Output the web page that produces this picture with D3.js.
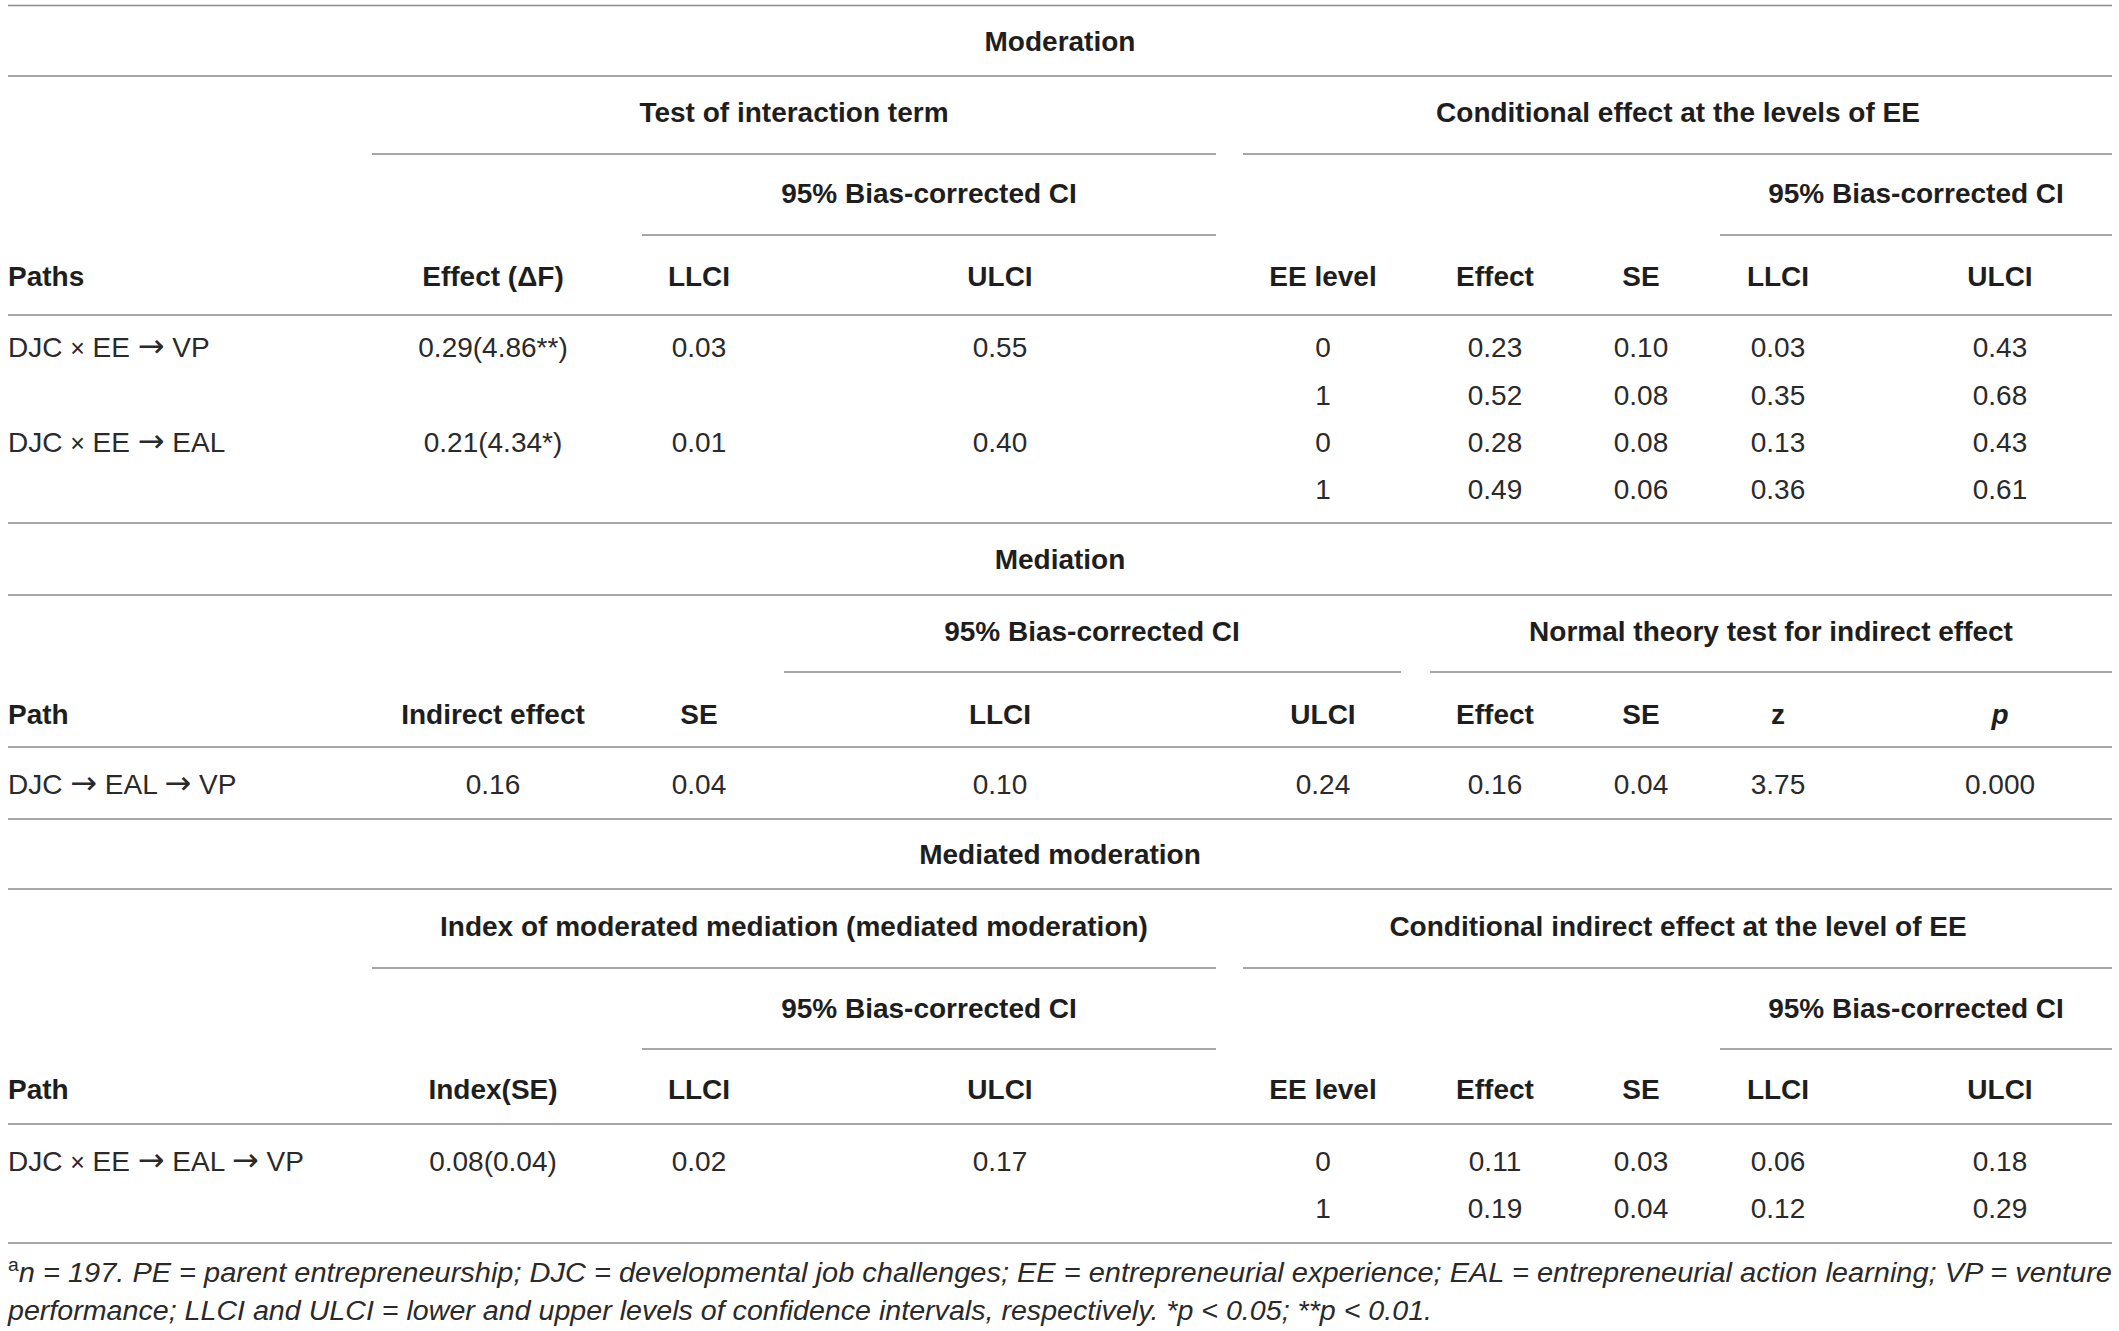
<!DOCTYPE html>
<html>
<head>
<meta charset="utf-8">
<script src="https://cdn.jsdelivr.net/npm/d3@7"></script>
<style>
  body { margin: 0; background: #fff; }
  svg { display: block; }
</style>
</head>
<body>
<div id="chart"></div>
<script>
// 表格資料
const modTitle = "Moderation"
const modSpan1 = ["Test of interaction term", "Conditional effect at the levels of EE"]
const modSpan2 = ["95% Bias-corrected CI", "95% Bias-corrected CI"]
const modHead = ["Paths", "Effect (ΔF)", "LLCI", "ULCI", "EE level", "Effect", "SE", "LLCI", "ULCI"]
const modRows = [
  ["DJC × EE → VP", "0.29(4.86**)", "0.03", "0.55", "0", "0.23", "0.10", "0.03", "0.43"],
  ["", "", "", "", "1", "0.52", "0.08", "0.35", "0.68"],
  ["DJC × EE → EAL", "0.21(4.34*)", "0.01", "0.40", "0", "0.28", "0.08", "0.13", "0.43"],
  ["", "", "", "", "1", "0.49", "0.06", "0.36", "0.61"]
]

const medTitle = "Mediation"
const medSpan = ["95% Bias-corrected CI", "Normal theory test for indirect effect"]
const medHead = ["Path", "Indirect effect", "SE", "LLCI", "ULCI", "Effect", "SE", "z", "p"]
const medRows = [
  ["DJC → EAL → VP", "0.16", "0.04", "0.10", "0.24", "0.16", "0.04", "3.75", "0.000"]
]

const mmTitle = "Mediated moderation"
const mmSpan1 = ["Index of moderated mediation (mediated moderation)", "Conditional indirect effect at the level of EE"]
const mmSpan2 = ["95% Bias-corrected CI", "95% Bias-corrected CI"]
const mmHead = ["Path", "Index(SE)", "LLCI", "ULCI", "EE level", "Effect", "SE", "LLCI", "ULCI"]
const mmRows = [
  ["DJC × EE → EAL → VP", "0.08(0.04)", "0.02", "0.17", "0", "0.11", "0.03", "0.06", "0.18"],
  ["", "", "", "", "1", "0.19", "0.04", "0.12", "0.29"]
]

const noteLines = [
  "n = 197. PE = parent entrepreneurship; DJC = developmental job challenges; EE = entrepreneurial experience; EAL = entrepreneurial action learning; VP = venture",
  "performance; LLCI and ULCI = lower and upper levels of confidence intervals, respectively. *p < 0.05; **p < 0.01."
]

// 版面
const width = 2119, height = 1331
const left = 8, right = 2112
const fontSize = 28
const capHalf = 10   // 大寫字高的一半，讓文字以中心對齊

const svg = d3.select('#chart')
  .append('svg')
  .attr('width', width)
  .attr('height', height)

// 欄位中心
const colX = d3.scaleOrdinal()
  .domain(d3.range(9))
  .range([left, 493, 699, 1000, 1323, 1495, 1641, 1778, 2000])

// 橫線
const fullRules = [5.5, 76, 315, 523, 595, 747, 819, 889, 1124, 1243]
const partRules = [
  { y: 154, x0: 372, x1: 1216 }, { y: 154, x0: 1243, x1: right },
  { y: 235, x0: 642, x1: 1216 }, { y: 235, x0: 1720, x1: right },
  { y: 672, x0: 784, x1: 1401 }, { y: 672, x0: 1430, x1: right },
  { y: 968, x0: 372, x1: 1216 }, { y: 968, x0: 1243, x1: right },
  { y: 1049, x0: 642, x1: 1216 }, { y: 1049, x0: 1720, x1: right }
]
const rules = fullRules.map(y => ({ y, x0: left, x1: right })).concat(partRules)

svg.append('g')
  .selectAll('line')
  .data(rules)
  .join('line')
  .attr('x1', d => d.x0)
  .attr('x2', d => d.x1)
  .attr('y1', d => d.y)
  .attr('y2', d => d.y)
  .attr('stroke', '#8a8a8a')
  .attr('stroke-width', 1.6)

// 文字
function label(g, txt, x, y, opt = {}) {
  const t = g.append('text')
    .attr('x', x)
    .attr('y', y + capHalf)
    .attr('text-anchor', opt.anchor || 'middle')
    .attr('font-family', '"Liberation Sans", Arial, sans-serif')
    .attr('font-size', fontSize)
    .attr('font-weight', opt.bold ? 'bold' : 'normal')
    .attr('font-style', opt.italic ? 'italic' : 'normal')
    .attr('fill', opt.bold ? '#1e1e1e' : '#2a2a2a')
  // 箭頭用 DejaVu 才夠寬
  const parts = txt.split(/(→|×)/)
  parts.forEach(p => {
    if (p === '→') {
      t.append('tspan').attr('font-family', '"DejaVu Sans", sans-serif').attr('font-size', 32).text(p)
    } else if (p === '×') {
      t.append('tspan').attr('font-size', 25).text(p)
    } else if (p !== '') {
      t.append('tspan').text(p)
    }
  })
  return t
}

function headRow(g, cells, y) {
  cells.forEach((c, i) => {
    label(g, c, colX(i), y, { bold: true, anchor: i == 0 ? 'start' : 'middle', italic: c == 'p' })
  })
}

function bodyRows(g, rows, ys) {
  rows.forEach((r, j) => {
    r.forEach((c, i) => {
      if (c !== '') label(g, c, colX(i), ys[j], { anchor: i == 0 ? 'start' : 'middle' })
    })
  })
}

const tbl = svg.append('g')

// Moderation
label(tbl, modTitle, 1060, 40.5, { bold: true })
label(tbl, modSpan1[0], 794, 112, { bold: true })
label(tbl, modSpan1[1], 1678, 112, { bold: true })
label(tbl, modSpan2[0], 929, 193, { bold: true })
label(tbl, modSpan2[1], 1916, 193, { bold: true })
headRow(tbl, modHead, 276)
bodyRows(tbl, modRows, [347, 395, 442, 489])

// Mediation
label(tbl, medTitle, 1060, 559, { bold: true })
label(tbl, medSpan[0], 1092, 631, { bold: true })
label(tbl, medSpan[1], 1771, 631, { bold: true })
headRow(tbl, medHead, 714)
bodyRows(tbl, medRows, [784])

// Mediated moderation
label(tbl, mmTitle, 1060, 854, { bold: true })
label(tbl, mmSpan1[0], 794, 926, { bold: true })
label(tbl, mmSpan1[1], 1678, 926, { bold: true })
label(tbl, mmSpan2[0], 929, 1008, { bold: true })
label(tbl, mmSpan2[1], 1916, 1008, { bold: true })
headRow(tbl, mmHead, 1089)
bodyRows(tbl, mmRows, [1161, 1208])

// 註解
const noteY = [1272, 1310]
const noteEnd = [right, 1432]
noteLines.forEach((t, i) => {
  const tx = svg.append('text')
    .attr('x', left)
    .attr('y', noteY[i] + capHalf)
    .attr('font-family', '"Liberation Sans", Arial, sans-serif')
    .attr('font-size', 27)
    .attr('font-style', 'italic')
    .attr('fill', '#2a2a2a')
    .attr('textLength', noteEnd[i] - left)
    .attr('lengthAdjust', 'spacingAndGlyphs')
  if (i == 0) {
    tx.append('tspan')
      .attr('font-size', 18)
      .attr('font-style', 'normal')
      .attr('dy', -11)
      .text('a')
    tx.append('tspan')
      .attr('dy', 11)
      .text(t)
  } else {
    tx.text(t)
  }
})
</script>
</body>
</html>
